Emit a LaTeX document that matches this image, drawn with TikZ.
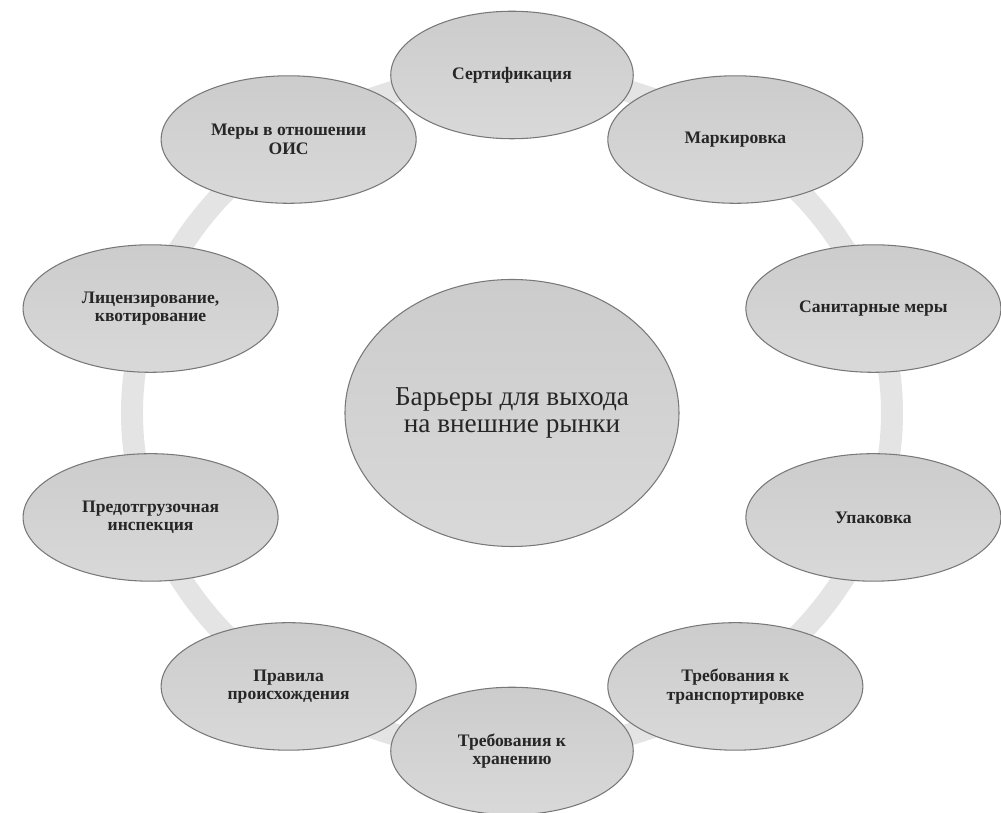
\documentclass[tikz,border=0pt]{standalone}
\usepackage{fontspec}
\setmainfont{Liberation Serif}
\usepackage{tikz}
\usetikzlibrary{shapes.geometric, positioning}

\definecolor{ringgray}{RGB}{228,228,228}
\definecolor{edgegray}{RGB}{120,120,120}

\begin{document}
\begin{tikzpicture}[
    barrier/.style={ellipse, draw=edgegray, line width=0.6pt,
        top color=gray!40, bottom color=gray!30,
        minimum width=5.1cm, minimum height=2.55cm, inner sep=0pt,
        align=center, text=black!85,
        font=\fontsize{10}{10.5}\selectfont\bfseries},
    hub/.style={barrier, minimum width=6.68cm, minimum height=5.34cm,
        font=\fontsize{15.5}{15}\selectfont}
]
    \useasboundingbox (-10.24,-8.0) rectangle (9.78,8.26);

    % Ring
    \draw [ringgray, line width=0.44cm] (0,0) ellipse (7.6cm and 6.76cm);

    % Centre
    \node[hub] (barriers) at (0,0) {Барьеры для выхода\\на внешние рынки};

    % Barriers round the ring
    \node[barrier, minimum width=4.85cm] (cert) at (90:7.6cm and 6.76cm) {Сертификация};
    \node[barrier] (mark) at (54:7.6cm and 6.76cm) {Маркировка};
    \node[barrier] (sanit) at (18:7.6cm and 6.76cm) {Санитарные меры};
    \node[barrier] (pack) at (-18:7.6cm and 6.76cm) {Упаковка};
    \node[barrier] (transp) at (-54:7.6cm and 6.76cm) {Требования к\\транспортировке};
    \node[barrier, minimum width=4.85cm] (store) at (-90:7.6cm and 6.76cm) {Требования к\\хранению};
    \node[barrier] (origin) at (-126:7.6cm and 6.76cm) {Правила\\происхождения};
    \node[barrier] (inspect) at (-162:7.6cm and 6.76cm) {Предотгрузочная\\инспекция};
    \node[barrier] (licens) at (162:7.6cm and 6.76cm) {Лицензирование,\\квотирование};
    \node[barrier] (ois) at (126:7.6cm and 6.76cm) {Меры в отношении\\ОИС};

\end{tikzpicture}
\end{document}
